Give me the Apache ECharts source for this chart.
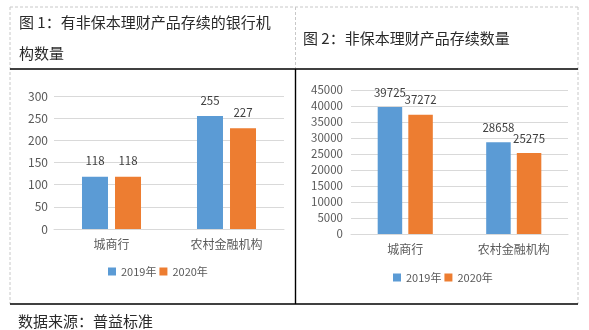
<!DOCTYPE html>
<html>
<head>
<meta charset="utf-8">
<script src="https://cdn.jsdelivr.net/npm/echarts@6/dist/echarts.min.js"></script>
<style>
html,body{margin:0;padding:0;background:#fff;}
#c{width:589px;height:330px;}
</style>
</head>
<body>
<div id="c"></div>
<script>
const categories = ['城商行', '农村金融机构'];
const seriesNames = ['2019年', '2020年'];
const banks2019 = [118, 255];
const banks2020 = [118, 227];
const products2019 = [39725, 28658];
const products2020 = [37272, 25275];
const title1Line1 = '图 1：有非保本理财产品存续的银行机';
const title1Line2 = '构数量';
const title2 = '图 2：非保本理财产品存续数量';
const sourceText = '数据来源：普益标准';

const FONT = '"Noto Sans CJK SC", "Noto Sans", sans-serif';
const BLUE = '#5B9BD5';
const ORANGE = '#ED7D31';
const GRID = '#D9D9D9';
const AXIS_TXT = '#595959';
const LABEL_TXT = '#404040';

const chart = echarts.init(document.getElementById('c'), null, {renderer: 'canvas'});

function yAxis(gi, max, interval, margin, fs) {
  return {
    type: 'value', gridIndex: gi, min: 0, max: max, interval: interval,
    axisLine: {show: false}, axisTick: {show: false},
    axisLabel: {color: AXIS_TXT, fontSize: fs, fontFamily: FONT, margin: margin,
      formatter: function (v) { return String(v); }},
    splitLine: {lineStyle: {color: GRID, width: 1}}
  };
}
function xAxis(gi) {
  return {
    type: 'category', gridIndex: gi, data: categories,
    axisLine: {lineStyle: {color: GRID, width: 1}}, axisTick: {show: false},
    axisLabel: {color: AXIS_TXT, fontSize: 12, fontFamily: FONT, margin: 9}
  };
}
function bar(name, data, gi, color, bw, gap, dist) {
  return {
    type: 'bar', name: name, data: data, xAxisIndex: gi, yAxisIndex: gi,
    barWidth: bw, barGap: gap,
    itemStyle: {color: color},
    label: {show: true, position: 'top', distance: dist, color: LABEL_TXT, fontSize: 11.5, fontFamily: FONT},
    emphasis: {disabled: true}
  };
}
function legend(left, top) {
  return {
    data: seriesNames, left: left, top: top, padding: 0,
    itemWidth: 8, itemHeight: 8, itemGap: 3, icon: 'rect',
    textStyle: {color: AXIS_TXT, fontSize: 11, fontFamily: FONT}
  };
}

const dashed = {stroke: '#C8C8C8', lineWidth: 1, lineDash: [3, 2]};
const solid = {stroke: '#000', lineWidth: 1.4};
function line(x1, y1, x2, y2, style) {
  return {type: 'line', shape: {x1: x1, y1: y1, x2: x2, y2: y2}, style: style, silent: true};
}
function txt(x, y, text, fs) {
  return {type: 'text', x: x, y: y, silent: true,
    style: {text: text, fill: '#2a2a2a', font: fs + 'px ' + FONT, textVerticalAlign: 'middle', verticalAlign: 'middle'}};
}

chart.setOption({
  backgroundColor: '#fff',
  animation: false,
  grid: [
    {left: 54, right: 305, top: 96, bottom: 101},
    {left: 351, right: 21, top: 90, bottom: 96}
  ],
  xAxis: [xAxis(0), xAxis(1)],
  yAxis: [yAxis(0, 300, 50, 6, 12), yAxis(1, 45000, 5000, 8, 11.5)],
  legend: [legend(108, 266), legend(393, 272)],
  series: [
    bar(seriesNames[0], banks2019, 0, BLUE, 26, '27%', 10),
    bar(seriesNames[1], banks2020, 0, ORANGE, 26, '27%', 10),
    bar(seriesNames[0], products2019, 1, BLUE, 24.5, '25%', 9),
    bar(seriesNames[1], products2020, 1, ORANGE, 24.5, '25%', 9)
  ],
  graphic: [
    line(10, 7, 578, 7, dashed),
    line(10, 7, 10, 304, dashed),
    line(578, 7, 578, 304, dashed),
    line(295.5, 7, 295.5, 69, dashed),
    line(10, 69, 578, 69, solid),
    line(10, 304, 578, 304, solid),
    line(295.5, 69, 295.5, 304, solid),
    txt(19, 22, title1Line1, 15),
    txt(19, 53, title1Line2, 15),
    txt(303, 38, title2, 15),
    txt(18, 321, sourceText, 15)
  ]
});
</script>
</body>
</html>
